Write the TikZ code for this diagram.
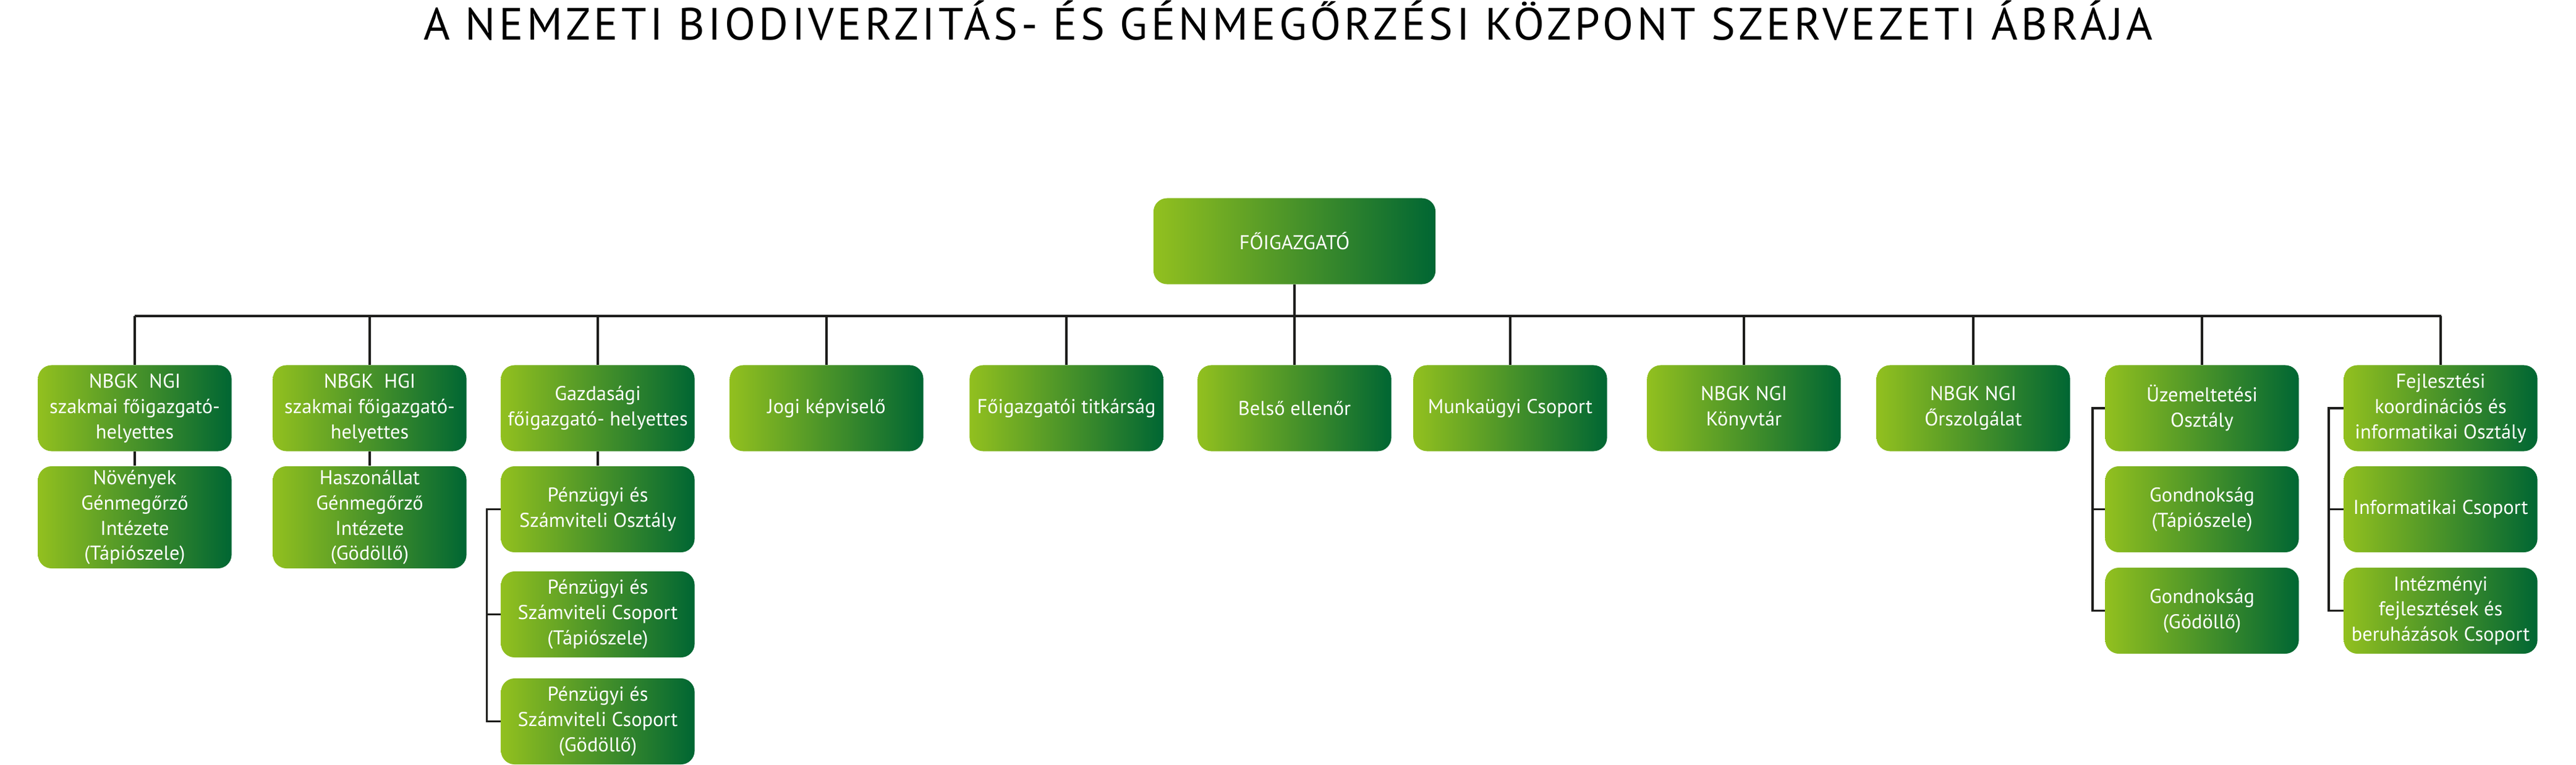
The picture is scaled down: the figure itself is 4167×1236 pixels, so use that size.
\documentclass[tikz,border=0pt]{standalone}
\usepackage{fontspec}
\setmainfont{PT Sans}
\newfontfamily\titlefont[LetterSpace=7.4]{PT Sans}
\usepackage{tikz}

\definecolor{ngLight}{RGB}{146,192,31}
\definecolor{ngDark}{RGB}{0,102,51}
\definecolor{ngLine}{RGB}{29,29,27}

\begin{document}
\begin{tikzpicture}[x=0.01cm, y=-0.01cm,
  unit/.style={rounded corners=0.22cm, left color=ngLight, right color=ngDark,
    text=white, align=center, inner sep=0pt,
    minimum width=3.13cm, minimum height=1.39cm,
    font=\fontsize{9.2}{11.6}\selectfont},
  link/.style={line width=1pt, color=ngLine}]

  \useasboundingbox (0,0) rectangle (4167,1236);

  \newcommand\YBUS{511}
  \newcommand\YROW{660}
  \newcommand\YSUBA{823.5}
  \newcommand\YSUBB{993.5}
  \newcommand\YSUBC{1166.5}

  % title
  \node[anchor=base, font=\titlefont\fontsize{20.8}{25}\selectfont] (title) at (2084,64)
  {A NEMZETI BIODIVERZITÁS- ÉS GÉNMEGŐRZÉSI KÖZPONT SZERVEZETI ÁBRÁJA};

  \node[unit, minimum width=4.56cm] (boss) at (2094,390) {FŐIGAZGATÓ};

  % first level
  \node[unit] (nbgkngi) at (218,\YROW) {NBGK\ \ NGI\\szakmai főigazgató-\\helyettes};
  \node[unit] (nbgkhgi) at (598,\YROW) {NBGK\ \ HGI\\szakmai főigazgató-\\helyettes};
  \node[unit] (gazd) at (967,\YROW) {Gazdasági\\főigazgató- helyettes};
  \node[unit] (jogi) at (1337,\YROW) {Jogi képviselő};
  \node[unit] (titk) at (1725,\YROW) {Főigazgatói titkárság};
  \node[unit] (ellen) at (2094,\YROW) {Belső ellenőr};
  \node[unit] (munka) at (2443,\YROW) {Munkaügyi Csoport};
  \node[unit] (konyv) at (2821,\YROW) {NBGK NGI\\Könyvtár};
  \node[unit] (orsz) at (3192,\YROW) {NBGK NGI\\Őrszolgálat};
  \node[unit] (uzem) at (3562,\YROW) {Üzemeltetési\\Osztály};
  \node[unit] (fejl) at (3948,\YROW) {Fejlesztési\\koordinációs és\\informatikai Osztály};

  % second level
  \node[unit, minimum height=1.65cm] (novenyek) at (218,836.5)
  {Növények\\Génmegőrző\\Intézete\\(Tápiószele)};
  \node[unit, minimum height=1.65cm] (haszon) at (598,836.5)
  {Haszonállat\\Génmegőrző\\Intézete\\(Gödöllő)};

  \node[unit] (penz1) at (967,\YSUBA) {Pénzügyi és\\Számviteli Osztály};
  \node[unit] (penz2) at (967,\YSUBB) {Pénzügyi és\\Számviteli Csoport\\(Tápiószele)};
  \node[unit] (penz3) at (967,\YSUBC) {Pénzügyi és\\Számviteli Csoport\\(Gödöllő)};

  \node[unit] (gond1) at (3562,\YSUBA) {Gondnokság\\(Tápiószele)};
  \node[unit] (gond2) at (3562,987.5) {Gondnokság\\(Gödöllő)};

  \node[unit] (info) at (3948,\YSUBA) {Informatikai Csoport};
  \node[unit] (intez) at (3948,987.5) {Intézményi\\fejlesztések és\\beruházások Csoport};

  % bus
  \coordinate (busL) at (218,\YBUS);
  \coordinate (busR) at (3949,\YBUS);
  \draw[link] (busL) -- (busR);
  \draw[link] (boss.south) -- (boss.south |- busL);

  \draw[link] (nbgkngi.north) -- (nbgkngi.north |- busL);
  \draw[link] (nbgkhgi.north) -- (nbgkhgi.north |- busL);
  \draw[link] (gazd.north) -- (gazd.north |- busL);
  \draw[link] (jogi.north) -- (jogi.north |- busL);
  \draw[link] (titk.north) -- (titk.north |- busL);
  \draw[link] (ellen.north) -- (ellen.north |- busL);
  \draw[link] (munka.north) -- (munka.north |- busL);
  \draw[link] (konyv.north) -- (konyv.north |- busL);
  \draw[link] (orsz.north) -- (orsz.north |- busL);
  \draw[link] (uzem.north) -- (uzem.north |- busL);
  \draw[link] (fejl.north) -- (fejl.north |- busL);

  \draw[link] (nbgkngi) -- (novenyek);
  \draw[link] (nbgkhgi) -- (haszon);
  \draw[link] (gazd) -- (penz1);

  % brackets
  \draw[link] (penz1.west) -- ++(-22,0) |- (penz3.west);
  \draw[link] (penz2.west) -- ++(-22,0);

  \draw[link] (uzem.west) -- ++(-20,0) |- (gond2.west);
  \draw[link] (gond1.west) -- ++(-20,0);

  \draw[link] (fejl.west) -- ++(-24,0) |- (intez.west);
  \draw[link] (info.west) -- ++(-24,0);

\end{tikzpicture}
\end{document}
